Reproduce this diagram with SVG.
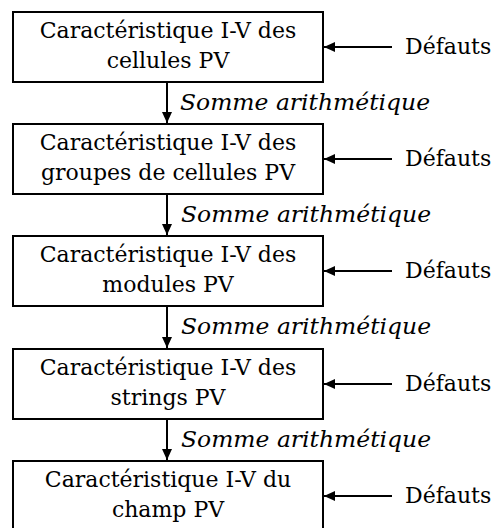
<svg xmlns="http://www.w3.org/2000/svg" width="493" height="528" viewBox="0 0 493 528">
<defs>
<marker id="ah" viewBox="0 0 11 10" refX="11" refY="5" markerWidth="11" markerHeight="10" markerUnits="userSpaceOnUse" orient="auto">
<path d="M0,0 L11,5 L0,10 Z" fill="#000"/>
</marker>
<style>
.box{fill:#fff;stroke:#000;stroke-width:2}
.t{font-family:"DejaVu Serif","Liberation Serif",serif;font-size:22px;fill:#000;text-anchor:middle}
.d{font-family:"DejaVu Serif","Liberation Serif",serif;font-size:22px;fill:#000}
.s{font-family:"DejaVu Serif","Liberation Serif",serif;font-size:22px;font-style:italic;fill:#000}
.c{stroke:#000;stroke-width:2;fill:none;marker-end:url(#ah)}
</style>
</defs>
<rect width="493" height="528" fill="#fff"/>
<g id="n1"><rect class="box" x="13" y="12" width="310" height="70"/><text class="t" x="168" y="38">Caractéristique I-V des</text><text class="t" x="168" y="68">cellules PV</text></g>
<g id="n2"><rect class="box" x="13" y="124" width="310" height="70"/><text class="t" x="168" y="150">Caractéristique I-V des</text><text class="t" x="168" y="180">groupes de cellules PV</text></g>
<g id="n3"><rect class="box" x="13" y="236" width="310" height="70"/><text class="t" x="168" y="262">Caractéristique I-V des</text><text class="t" x="168" y="292">modules PV</text></g>
<g id="n4"><rect class="box" x="13" y="349" width="310" height="70"/><text class="t" x="168" y="375">Caractéristique I-V des</text><text class="t" x="168" y="405">strings PV</text></g>
<g id="n5"><rect class="box" x="13" y="461" width="310" height="70"/><text class="t" x="168" y="487">Caractéristique I-V du</text><text class="t" x="168" y="517">champ PV</text></g>
<g id="d1"><text class="d" x="405" y="54">Défauts</text></g>
<g id="d2"><text class="d" x="405" y="166">Défauts</text></g>
<g id="d3"><text class="d" x="405" y="278">Défauts</text></g>
<g id="d4"><text class="d" x="405" y="391">Défauts</text></g>
<g id="d5"><text class="d" x="405" y="503">Défauts</text></g>
<g id="connectors">
<line class="c" x1="167" y1="82" x2="167" y2="123"/>
<line class="c" x1="167" y1="194" x2="167" y2="235"/>
<line class="c" x1="167" y1="306" x2="167" y2="348"/>
<line class="c" x1="167" y1="419" x2="167" y2="460"/>
<line class="c" x1="392" y1="47" x2="324" y2="47"/>
<line class="c" x1="392" y1="159" x2="324" y2="159"/>
<line class="c" x1="392" y1="271" x2="324" y2="271"/>
<line class="c" x1="392" y1="384" x2="324" y2="384"/>
<line class="c" x1="392" y1="496" x2="324" y2="496"/>
<text class="s" x="180" y="110" textLength="250" lengthAdjust="spacingAndGlyphs">Somme arithmétique</text>
<text class="s" x="181" y="222" textLength="250" lengthAdjust="spacingAndGlyphs">Somme arithmétique</text>
<text class="s" x="181" y="334" textLength="250" lengthAdjust="spacingAndGlyphs">Somme arithmétique</text>
<text class="s" x="181" y="447" textLength="250" lengthAdjust="spacingAndGlyphs">Somme arithmétique</text>
</g>
</svg>
